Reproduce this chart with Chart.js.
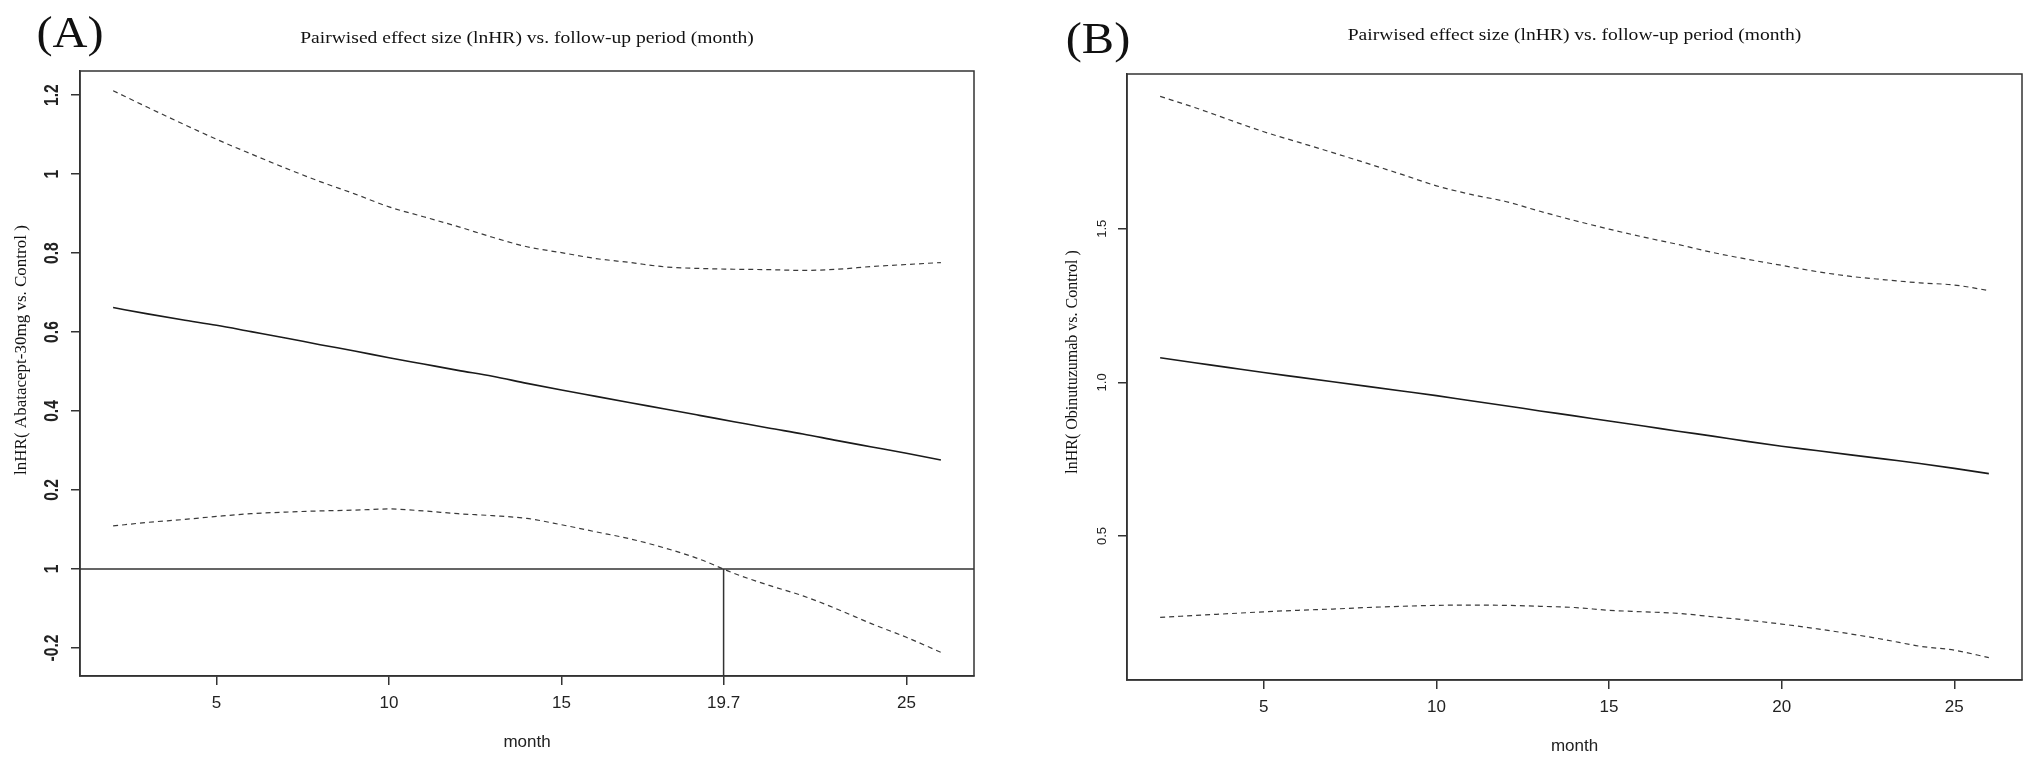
<!DOCTYPE html>
<html>
<head>
<meta charset="utf-8">
<script src="https://cdn.jsdelivr.net/npm/chart.js@4.4.1/dist/chart.umd.min.js"></script>
<style>
  body { margin: 0; background: #fff; }
  #wrap { position: relative; width: 2032px; height: 768px; }
  canvas { position: absolute; top: 0; }
</style>
</head>
<body>
<div id="wrap">
  <canvas id="chartA" width="1016" height="768" style="left:0"></canvas>
  <canvas id="chartB" width="1016" height="768" style="left:1016px"></canvas>
</div>
<script>
const months = [2, 3, 4, 5, 6, 7, 8, 9, 10, 11, 12, 13, 14, 15, 16, 17, 18, 19, 20, 21, 22, 23, 24, 25, 26];

// (A) Abatacept-30mg vs. Control
const aUpper = [1.211, 1.169, 1.128, 1.088, 1.051, 1.015, 0.981, 0.950, 0.917, 0.892, 0.867, 0.840, 0.816,
                0.801, 0.786, 0.776, 0.765, 0.761, 0.759, 0.758, 0.756, 0.759, 0.766, 0.771, 0.776];
const aMid   = [0.662, 0.646, 0.631, 0.617, 0.601, 0.585, 0.568, 0.552, 0.535, 0.519, 0.503, 0.488, 0.470,
                0.453, 0.437, 0.421, 0.405, 0.389, 0.373, 0.357, 0.342, 0.325, 0.309, 0.293, 0.276];
const aLower = [0.109, 0.118, 0.125, 0.133, 0.140, 0.144, 0.147, 0.149, 0.152, 0.147, 0.140, 0.135, 0.128,
                0.112, 0.094, 0.076, 0.053, 0.025, -0.011, -0.041, -0.068, -0.102, -0.139, -0.173, -0.211];
const aXTicks = [5, 10, 15, 19.7, 25];
const aXTickLabels = ['5', '10', '15', '19.7', '25'];
const aYTicks = [-0.2, 0, 0.2, 0.4, 0.6, 0.8, 1, 1.2];
const aYTickLabels = ['-0.2', '1', '0.2', '0.4', '0.6', '0.8', '1', '1.2'];
const aRefY = 0;
const aCrossMonth = 19.7;

// (B) Obinutuzumab vs. Control
const bUpper = [1.931, 1.895, 1.855, 1.816, 1.782, 1.748, 1.713, 1.677, 1.640, 1.612, 1.589, 1.557, 1.527,
                1.499, 1.473, 1.449, 1.423, 1.401, 1.381, 1.361, 1.345, 1.334, 1.324, 1.317, 1.299];
const bMid   = [1.080, 1.064, 1.048, 1.032, 1.017, 1.002, 0.987, 0.972, 0.957, 0.940, 0.924, 0.907, 0.891,
                0.874, 0.858, 0.841, 0.825, 0.808, 0.792, 0.778, 0.764, 0.750, 0.736, 0.720, 0.703];
const bLower = [0.235, 0.241, 0.247, 0.253, 0.258, 0.262, 0.267, 0.271, 0.274, 0.275, 0.274, 0.271, 0.267,
                0.258, 0.253, 0.248, 0.237, 0.226, 0.213, 0.198, 0.181, 0.162, 0.141, 0.128, 0.104];
const bXTicks = [5, 10, 15, 20, 25];
const bXTickLabels = ['5', '10', '15', '20', '25'];
const bYTicks = [0.5, 1.0, 1.5];
const bYTickLabels = ['0.5', '1.0', '1.5'];

const titleText = 'Pairwised effect size (lnHR) vs. follow-up period (month)';

function pts(ys) {
  return months.map((m, i) => ({ x: m, y: ys[i] }));
}

// R style box, reference lines, rotated y labels and titles
const rDecor = {
  id: 'rDecor',
  afterDraw(chart, args, o) {
    const ctx = chart.ctx;
    const area = chart.chartArea;
    const xs = chart.scales.x, ys = chart.scales.y;
    ctx.save();
    ctx.strokeStyle = '#333';
    ctx.lineWidth = 1.5;
    ctx.strokeRect(area.left, area.top, area.right - area.left, area.bottom - area.top);

    if (o.refY !== undefined) {
      const y0 = ys.getPixelForValue(o.refY);
      ctx.beginPath();
      ctx.moveTo(area.left, y0);
      ctx.lineTo(area.right, y0);
      if (o.crossX !== undefined) {
        const xc = xs.getPixelForValue(o.crossX);
        ctx.moveTo(xc, y0);
        ctx.lineTo(xc, area.bottom);
      }
      ctx.stroke();
    }

    // y tick labels, read bottom to top
    ctx.fillStyle = '#222';
    ctx.font = o.yTickFont;
    ctx.textAlign = 'center';
    ctx.textBaseline = 'middle';
    o.yTicks.forEach((v, i) => {
      ctx.save();
      ctx.translate(o.yTickX, ys.getPixelForValue(v));
      ctx.rotate(-Math.PI / 2);
      ctx.scale(o.yTickSquash, 1);
      ctx.fillText(o.yTickLabels[i], 0, 0);
      ctx.restore();
    });

    // y axis title
    ctx.save();
    ctx.font = o.ylabFont;
    ctx.fillStyle = '#111';
    ctx.translate(o.ylabX, o.ylabY);
    ctx.rotate(-Math.PI / 2);
    ctx.fillText(o.ylab, 0, 0);
    ctx.restore();

    // main title
    ctx.save();
    ctx.font = '17px "Liberation Serif", "Times New Roman", serif';
    ctx.fillStyle = '#111';
    ctx.textBaseline = 'alphabetic';
    ctx.translate((area.left + area.right) / 2, o.titleY);
    ctx.scale(1.15, 1);
    ctx.fillText(titleText, 0, 0);
    ctx.restore();

    // panel letter
    ctx.save();
    ctx.font = '44px "Liberation Serif", "Times New Roman", serif';
    ctx.fillStyle = '#111';
    ctx.textBaseline = 'alphabetic';
    ctx.translate(o.letterX, o.letterY);
    ctx.scale(1.1, 1);
    ctx.fillText(o.letter, 0, 0);
    ctx.restore();

    ctx.restore();
  }
};

function makePanel(id, cfg) {
  const lineSet = (ys, dashed, width, color) => ({
    data: pts(ys),
    borderColor: color,
    borderWidth: width,
    borderDash: dashed ? [5, 4] : [],
    pointRadius: 0,
    cubicInterpolationMode: 'monotone',
    fill: false
  });
  return new Chart(document.getElementById(id), {
    type: 'line',
    data: {
      datasets: [
        lineSet(cfg.upper, true, 1.2, '#3a3a3a'),
        lineSet(cfg.mid, false, 1.6, '#1a1a1a'),
        lineSet(cfg.lower, true, 1.2, '#3a3a3a')
      ]
    },
    plugins: [rDecor],
    options: {
      responsive: false,
      animation: false,
      layout: { padding: { top: cfg.top, right: cfg.right, left: 0, bottom: 0 } },
      plugins: {
        legend: { display: false },
        title: { display: false },
        tooltip: { enabled: false },
        rDecor: cfg.decor
      },
      scales: {
        x: {
          type: 'linear',
          min: 1.04,
          max: 26.96,
          afterBuildTicks: s => { s.ticks = cfg.xTicks.map(v => ({ value: v })); },
          afterFit: s => { s.height = cfg.xHeight; },
          grid: { drawOnChartArea: false, drawTicks: true, tickLength: 9, tickColor: '#333', lineWidth: 1.5 },
          border: { display: true, color: '#333', width: 1.5 },
          ticks: {
            autoSkip: false,
            maxRotation: 0,
            padding: 8,
            color: '#222',
            font: { family: '"Liberation Sans Narrow", "Arial Narrow", sans-serif', size: 17 },
            callback: v => cfg.xTickLabels[cfg.xTicks.indexOf(v)]
          },
          title: {
            display: true,
            text: 'month',
            color: '#222',
            font: { family: '"Liberation Sans Narrow", "Arial Narrow", sans-serif', size: 17 },
            padding: { top: 0, bottom: cfg.monthPad }
          }
        },
        y: {
          type: 'linear',
          min: cfg.yMin,
          max: cfg.yMax,
          afterBuildTicks: s => { s.ticks = cfg.decor.yTicks.map(v => ({ value: v })); },
          afterFit: s => { s.width = cfg.yWidth; },
          grid: { drawOnChartArea: false, drawTicks: true, tickLength: 9, tickColor: '#333', lineWidth: 1.5 },
          border: { display: true, color: '#333', width: 1.5 },
          ticks: { display: false }
        }
      }
    }
  });
}

makePanel('chartA', {
  upper: aUpper, mid: aMid, lower: aLower,
  xTicks: aXTicks, xTickLabels: aXTickLabels,
  yMin: -0.271, yMax: 1.261,
  top: 71, right: 42, xHeight: 92, yWidth: 80, monthPad: 15,
  decor: {
    letter: '(A)', letterX: 70, letterY: 47, titleY: 43,
    yTicks: aYTicks, yTickLabels: aYTickLabels, yTickX: 52, yTickSquash: 0.78,
    yTickFont: 'bold 20px "Liberation Sans", Arial, sans-serif',
    ylab: 'lnHR( Abatacept-30mg vs. Control )', ylabX: 22, ylabY: 350,
    ylabFont: '17px "Liberation Serif", "Times New Roman", serif',
    refY: aRefY, crossX: aCrossMonth
  }
});

makePanel('chartB', {
  upper: bUpper, mid: bMid, lower: bLower,
  xTicks: bXTicks, xTickLabels: bXTickLabels,
  yMin: 0.031, yMax: 2.004,
  top: 74, right: 10, xHeight: 88, yWidth: 111, monthPad: 11,
  decor: {
    letter: '(B)', letterX: 82, letterY: 53, titleY: 40,
    yTicks: bYTicks, yTickLabels: bYTickLabels, yTickX: 86, yTickSquash: 1,
    yTickFont: '13px "Liberation Sans", Arial, sans-serif',
    ylab: 'lnHR( Obinutuzumab vs. Control )', ylabX: 57, ylabY: 362,
    ylabFont: '16px "Liberation Serif", "Times New Roman", serif'
  }
});
</script>
</body>
</html>
